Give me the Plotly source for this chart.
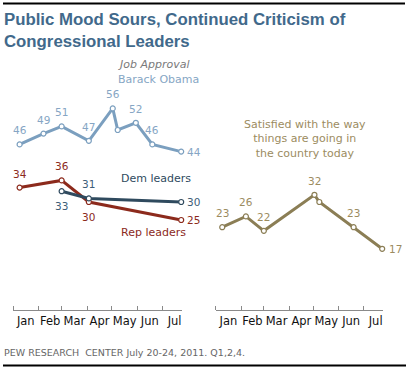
import plotly.graph_objects as go

W, H = 409, 370

# ---------------- data ----------------
obama_dates = ["2011-01-09", "2011-02-07", "2011-03-01", "2011-04-03", "2011-05-02",
               "2011-05-08", "2011-05-30", "2011-06-19", "2011-07-24"]
obama_vals = [46, 49, 51, 47, 56, 50, 52, 46, 44]
obama_show = [True, True, True, True, True, False, True, True, True]

rep_dates = ["2011-01-09", "2011-03-01", "2011-04-03", "2011-07-24"]
rep_vals = [34, 36, 30, 25]

dem_dates = ["2011-03-01", "2011-04-03", "2011-07-24"]
dem_vals = [33, 31, 30]

sat_dates = ["2011-01-09", "2011-02-07", "2011-03-01", "2011-05-02", "2011-05-08",
             "2011-06-19", "2011-07-24"]
sat_vals = [23, 26, 22, 32, 30, 23, 17]
sat_show = [True, True, True, True, False, True, True]

x_range = ["2011-01-01", "2011-07-25"]
y_range = [0, 70]

# ---------------- styles ----------------
C_OBAMA = "#7b9fbf"
C_OBAMA_T = "#86a6c4"
C_REP = "#8c2a1c"
C_DEM = "#2f4a5e"
C_DEM_T = "#3d5d78"
C_SAT = "#8b7e55"
C_SAT_T = "#9c8c5f"
FONT = "DejaVu Sans"


def px(x, y):
    return x / W, 1 - y / H


fig = go.Figure()


def add_series(dates, vals, color, xa):
    fig.add_trace(go.Scatter(
        x=dates, y=vals, mode="lines+markers", xaxis=xa, yaxis="y",
        line=dict(color=color, width=3),
        marker=dict(size=5, color="white", line=dict(color=color, width=1.2)),
        hoverinfo="skip", showlegend=False, cliponaxis=False))


add_series(obama_dates, obama_vals, C_OBAMA, "x")
add_series(rep_dates, rep_vals, C_REP, "x")
add_series(dem_dates, dem_vals, C_DEM, "x")
add_series(sat_dates, sat_vals, C_SAT, "x2")

ann = []


def lab(xref, d, v, color, dx=0, dy=14, right=False):
    ann.append(dict(xref=xref, yref="y", x=d, y=v, text=str(v), showarrow=False,
                    xanchor="left" if right else "center",
                    xshift=dx, yshift=dy, borderpad=0,
                    font=dict(family=FONT, size=10.5, color=color)))


for d, v, s in zip(obama_dates, obama_vals, obama_show):
    if not s:
        continue
    if d == obama_dates[-1]:
        lab("x", d, v, C_OBAMA_T, dx=5, dy=0, right=True)
    else:
        lab("x", d, v, C_OBAMA_T)

rep_offsets = [(0, 14), (0, 14), (0, -15), (5, 0)]
for i, (d, v, o) in enumerate(zip(rep_dates, rep_vals, rep_offsets)):
    lab("x", d, v, C_REP, dx=o[0], dy=o[1], right=(i == len(rep_vals) - 1))

dem_offsets = [(0, -15), (0, 14), (5, 0)]
for i, (d, v, o) in enumerate(zip(dem_dates, dem_vals, dem_offsets)):
    lab("x", d, v, C_DEM_T, dx=o[0], dy=o[1], right=(i == len(dem_vals) - 1))

for d, v, s in zip(sat_dates, sat_vals, sat_show):
    if not s:
        continue
    if d == sat_dates[-1]:
        lab("x2", d, v, C_SAT_T, dx=6, dy=0, right=True)
    else:
        lab("x2", d, v, C_SAT_T)


def text(x, y, t, color, size=11, anchor="center", italic=False, fam=FONT, yanchor="middle"):
    xx, yy = px(x, y)
    ann.append(dict(xref="paper", yref="paper", x=xx, y=yy, text=t, showarrow=False,
                    xanchor=anchor, yanchor=yanchor, borderpad=0,
                    align=anchor if anchor != "center" else "center",
                    font=dict(family=fam, size=size, color=color,
                              style="italic" if italic else "normal")))


text(117, 64, "Job Approval", "#7a7a7a", italic=True, anchor="left")
text(117, 79, "Barack Obama", C_OBAMA_T, anchor="left")
text(120, 178, "Dem leaders", C_DEM, anchor="left")
text(120, 232, "Rep leaders", C_REP, anchor="left")
text(305, 139, "Satisfied with the way<br>things are going in<br>the country today", C_SAT_T)

# title
text(3, 9, "<b>Public Mood Sours, Continued Criticism of<br>Congressional Leaders</b>",
     "#41698b", size=16.8, anchor="left", fam="Liberation Sans", yanchor="top")
# footer
text(3, 352, "PEW RESEARCH&nbsp; CENTER July 20-24, 2011. Q1,2,4.", "#666666", size=9.5,
     anchor="left")

shapes = [
    dict(type="line", xref="paper", yref="paper", x0=3 / W, x1=405 / W, y0=1 - 3.5 / H,
         y1=1 - 3.5 / H, line=dict(color="black", width=2)),
    dict(type="line", xref="paper", yref="paper", x0=3 / W, x1=406 / W, y0=1 - 365.5 / H,
         y1=1 - 365.5 / H, line=dict(color="black", width=2)),
]

xaxis_common = dict(
    type="date", range=x_range, dtick="M1", tick0="2011-01-01", ticklabelmode="period",
    tickformat="%b", tickangle=0, ticks="inside", ticklen=4, tickcolor="#8a8a8a", tickwidth=1,
    showline=True, linecolor="#8a8a8a", linewidth=1, showgrid=False, zeroline=False,
    tickfont=dict(family=FONT, size=11.5, color="#111111"), anchor="y", fixedrange=True,
)

y0 = 1 - 310 / H
y1 = 1 - (310 - 3.6 * y_range[1]) / H

fig.update_layout(
    width=W, height=H, margin=dict(l=0, r=0, t=0, b=0),
    paper_bgcolor="white", plot_bgcolor="white",
    xaxis=dict(domain=[13 / W, 182 / W], **xaxis_common),
    xaxis2=dict(domain=[215.7 / W, 383 / W], **xaxis_common),
    yaxis=dict(domain=[y0, y1], range=y_range, visible=False, fixedrange=True),
    annotations=ann, shapes=shapes, showlegend=False,
)

fig.write_html("out.html", config={"displayModeBar": False}, include_plotlyjs=True,
               post_script="document.body.style.margin='0';document.body.style.padding='0';"
                           "document.documentElement.style.margin='0';"
                           "document.body.style.overflow='hidden';window.scrollTo(0,0);")
